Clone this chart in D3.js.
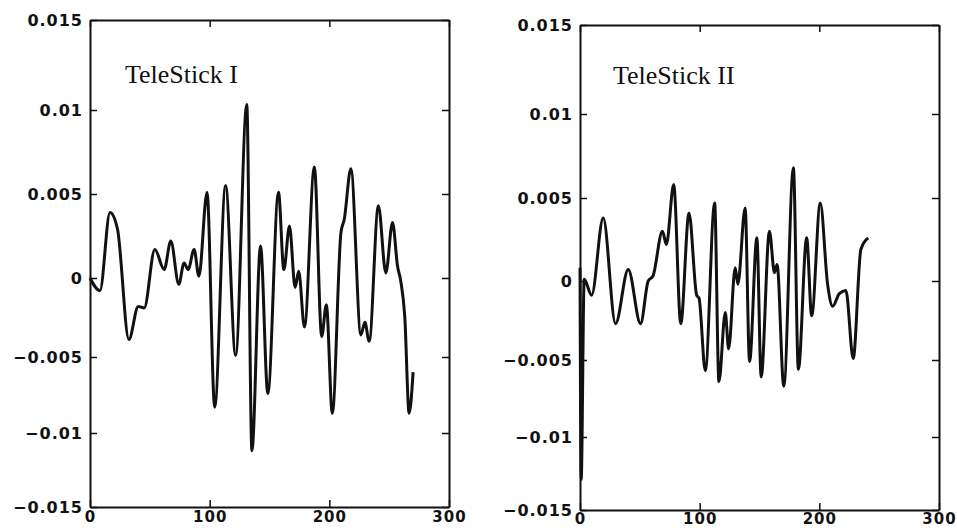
<!DOCTYPE html>
<html>
<head>
<meta charset="utf-8">
<script src="https://cdn.jsdelivr.net/npm/d3@7"></script>
<style>
  body { margin: 0; background: #fff; }
  .tick text { font-family: "DejaVu Sans", sans-serif; font-weight: bold; font-size: 16px; letter-spacing: 1px; fill: #111; }
  .xaxis .tick text { font-size: 15px; }
  .title { font-family: "Liberation Serif", "Times New Roman", serif; font-size: 26px; fill: #111; }
</style>
</head>
<body>
<svg id="chart" width="957" height="530"></svg>
<script>
// tick values shared by both panels
const xTicks = [0, 100, 200, 300];
const yTicks = [-0.015, -0.01, -0.005, 0, 0.005, 0.01, 0.015];

// TeleStick I trace (sample index, value)
const stick1X = [0, 8.3, 16.7, 23, 32.5, 40.3, 45.3, 54.2, 62, 67.5, 74.2, 78.6, 82, 87, 91,
  97.8, 104.2, 113.3, 121.7, 131, 135.3, 142.5, 148.6, 157.5, 162, 166.7, 171.4, 174.4, 179.2,
  187.5, 193.6, 197.5, 202.5, 209.7, 212.5, 218, 226.4, 229.7, 233.3, 241, 247.2, 252.8, 257,
  259.7, 263, 266.7, 270];
const stick1Y = [0, -0.0008, 0.0039, 0.0029, -0.0039, -0.0018, -0.0019, 0.0017, 0.0005, 0.0022,
  -0.0004, 0.0009, 0.0005, 0.0017, 0.0001, 0.0051, -0.0083, 0.0055, -0.0049, 0.0103, -0.0112,
  0.0019, -0.0074, 0.0051, 0.0005, 0.0031, -0.0006, 0.0004, -0.0031, 0.0066, -0.0037, -0.0017,
  -0.0087, 0.0027, 0.0035, 0.0065, -0.0036, -0.0028, -0.0040, 0.0043, 0.0003, 0.0033, 0.0007,
  -0.0002, -0.0024, -0.0087, -0.0060];

// TeleStick II trace
const stick2X = [0, 1, 3.5, 9.7, 19.4, 29.7, 40.3, 50.6, 57, 61, 68.9, 72.2, 78.3, 84.2, 91.1,
  97.5, 99.5, 104.7, 112.5, 116.1, 121.4, 124.2, 129.7, 131.9, 138, 141.7, 147.8, 151.4, 158.3,
  162.5, 164.7, 170.3, 178.3, 182.5, 189.4, 193.6, 200.8, 206.9, 211.1, 216.7, 222.2, 228.3,
  234.7, 240.8];
const stick2Y = [0.0008, -0.0129, 0.0001, -0.0009, 0.0038, -0.0027, 0.0007, -0.0027, 0.0000,
  0.0003, 0.0030, 0.0022, 0.0058, -0.0027, 0.0041, -0.0009, -0.0011, -0.0057, 0.0047, -0.0064,
  -0.0020, -0.0043, 0.0008, -0.0002, 0.0044, -0.0051, 0.0026, -0.0061, 0.0030, 0.0005, 0.0010,
  -0.0067, 0.0068, -0.0056, 0.0026, -0.0022, 0.0047, -0.0002, -0.0016, -0.0008, -0.0006,
  -0.0049, 0.0019, 0.0026];

const svg = d3.select('#chart');

// the scanned axes are a little uneven, so y uses one stop per tick
const panels = [
  {title: 'TeleStick I', xs: stick1X, ys: stick1Y, x0: 90, x1: 449,
   yRange: [507, 433, 357, 278, 194, 110, 20], titleX: 125, titleY: 83, pad: 4},
  {title: 'TeleStick II', xs: stick2X, ys: stick2Y, x0: 580, x1: 939,
   yRange: [510, 437, 360, 281, 198, 114, 25], titleX: 613, titleY: 84, pad: 3}
];

const fmt = d3.format('~g');

panels.forEach(p => {
  const x = d3.scaleLinear().domain([0, 300]).range([p.x0, p.x1]);
  const y = d3.scaleLinear().domain(yTicks).range(p.yRange);
  const top = p.yRange[p.yRange.length - 1], bottom = p.yRange[0];
  const g = svg.append('g');

  g.append('g')
    .classed('xaxis', true)
    .attr('transform', 'translate(0,' + bottom + ')')
    .call(d3.axisBottom(x).tickValues(xTicks).tickSize(-7).tickSizeOuter(0).tickPadding(p.pad).tickFormat(fmt));
  g.append('g')
    .attr('transform', 'translate(0,' + top + ')')
    .call(d3.axisTop(x).tickValues(xTicks).tickSize(-7).tickSizeOuter(0).tickFormat(''));
  g.append('g')
    .attr('transform', 'translate(' + p.x0 + ',0)')
    .call(d3.axisLeft(y).tickValues(yTicks).tickSize(-7).tickSizeOuter(0).tickPadding(7).tickFormat(fmt));
  g.append('g')
    .attr('transform', 'translate(' + p.x1 + ',0)')
    .call(d3.axisRight(y).tickValues(yTicks).tickSize(-7).tickSizeOuter(0).tickFormat(''));

  g.selectAll('.domain').attr('stroke', '#111').attr('stroke-width', 2);
  g.selectAll('.tick line').attr('stroke', '#111').attr('stroke-width', 1.5);

  g.append('text')
    .classed('title', true)
    .attr('x', p.titleX)
    .attr('y', p.titleY)
    .text(p.title);

  const line = d3.line()
    .x((d, i) => x(p.xs[i]))
    .y(d => y(d))
    .curve(d3.curveMonotoneX);

  g.append('path')
    .datum(p.ys)
    .attr('fill', 'none')
    .attr('stroke', '#111')
    .attr('stroke-width', 3)
    .attr('stroke-linejoin', 'round')
    .attr('d', line);
});
</script>
</body>
</html>
